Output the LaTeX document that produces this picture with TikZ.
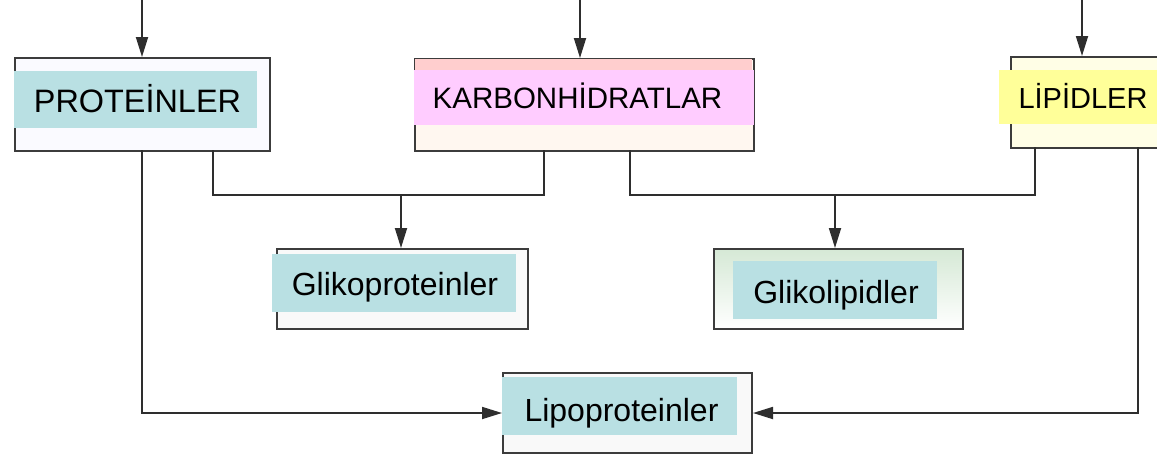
\documentclass[tikz,border=0pt]{standalone}
\usepackage{fontspec}
\setmainfont{Liberation Sans}
\usetikzlibrary{arrows.meta}
\definecolor{teal}{HTML}{B9E0E3}
\definecolor{pinkf}{HTML}{FFCCFF}
\definecolor{yel}{HTML}{FFFF99}
\definecolor{frame}{HTML}{3C3C3C}
\definecolor{wire}{HTML}{2E2E2E}
\tikzset{
  frbox/.style={draw=frame, line width=2pt, rectangle, inner sep=0pt, anchor=north west},
  fillbox/.style={rectangle, inner sep=0pt, anchor=north west, draw=none},
  lbl/.style={inner sep=0pt, anchor=base, font=\fontsize{32}{32}\selectfont},
  wireline/.style={draw=wire, line width=1.8pt},
  arr/.style={wireline, -{Triangle[length=20pt,width=12pt]}}
}
\begin{document}
\begin{tikzpicture}[x=1pt,y=-1pt]
\useasboundingbox (0,0) rectangle (1157,456);
\fill[white] (0,0) rectangle (1157,456);
% outer boxes
\node[frbox, fill=black!2!blue!2, minimum width=255pt, minimum height=93pt] (prot) at (14,57) {};
\node[frbox, fill=orange!6, minimum width=339pt, minimum height=92pt] (karb) at (414,58) {};
\fill[red!40!pink!35] (415,59) rectangle (752,70);
\node[frbox, fill=yellow!10, minimum width=160pt, minimum height=91pt] (lip) at (1010,56) {};
\node[frbox, fill=gray!5, minimum width=251pt, minimum height=80pt] (glikop) at (276,248) {};
\node[frbox, top color=green!30!gray!25, bottom color=white, minimum width=249pt, minimum height=80pt] (glikol) at (713,248) {};
\node[frbox, fill=gray!5, minimum width=249pt, minimum height=80pt] (lipop) at (502,372) {};
% coloured label fills
\node[fillbox, fill=teal, minimum width=243pt, minimum height=57pt] (protf) at (14,71) {};
\node[fillbox, fill=pinkf, minimum width=340pt, minimum height=55pt] (karbf) at (414,70) {};
\node[fillbox, fill=yel, minimum width=165pt, minimum height=54pt] (lipf) at (999,70) {};
\node[fillbox, fill=teal, minimum width=244pt, minimum height=58pt] (glikopf) at (272,254) {};
\node[fillbox, fill=teal, minimum width=204pt, minimum height=58pt] (glikolf) at (733,261) {};
\node[fillbox, fill=teal, minimum width=235pt, minimum height=58pt] (lipopf) at (502,377) {};
% texts
\node[lbl, font=\fontsize{32.4}{32}\selectfont] (tprot) at (137.5,112) {PROTEİNLER};
\node[lbl, font=\fontsize{29.5}{29}\selectfont] (tkarb) at (577.5,108) {KARBONHİDRATLAR};
\node[lbl, font=\fontsize{29}{29}\selectfont] (tlip) at (1083,108) {LİPİDLER};
\node[lbl] (tglikop) at (395,295) {Glikoproteinler};
\node[lbl] (tglikol) at (836,303) {Glikolipidler};
\node[lbl] (tlipop) at (621.5,421) {Lipoproteinler};
% free ends and junctions
\coordinate (inP) at (142,0);
\coordinate (inK) at (580,0);
\coordinate (inL) at (1082,0);
\coordinate (j1) at (401,195);
\coordinate (j2) at (835,195);
% top arrows
\draw[arr] (inP) -- (inP |- prot.north);
\draw[arr] (inK) -- (inK |- karb.north);
\draw[arr] (inL) -- (inL |- lip.north);
% proteins + carbs -> glikoproteinler
\draw[wireline] (213,150) |- (j1) -| (544,150);
\draw[arr] (j1) -- (j1 |- glikop.north);
% carbs + lipids -> glikolipidler
\draw[wireline] (630,150) |- (j2) -| (1035,147);
\draw[arr] (j2) -- (j2 |- glikol.north);
% lipoproteinler
\draw[arr] (142,150) |- (lipop.west);
\draw[arr] (1138,147) |- (lipop.east);
\end{tikzpicture}
\end{document}
